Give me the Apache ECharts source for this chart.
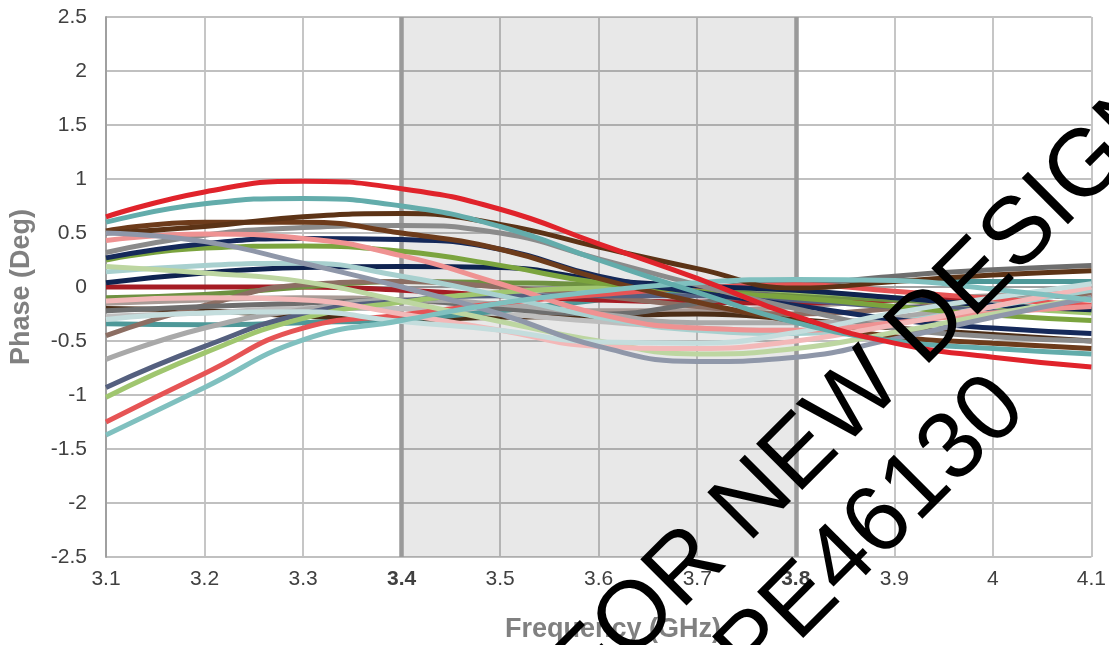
<!DOCTYPE html>
<html>
<head>
<meta charset="utf-8">
<script src="https://cdn.jsdelivr.net/npm/echarts@6/dist/echarts.min.js"></script>
<style>
html,body{margin:0;padding:0;background:#fff;}
#chart{width:1109px;height:645px;}
</style>
</head>
<body>
<div id="chart"></div>
<script>
// Frequencies (GHz)
const freqs = [3.1, 3.2, 3.3, 3.4, 3.5, 3.6, 3.7, 3.8, 3.9, 4.0, 4.1];
const yTicks = [-2.5, -2, -1.5, -1, -0.5, 0, 0.5, 1, 1.5, 2, 2.5];
const boldTicks = ['3.4', '3.8'];
const bandStart = 3.4;
const bandEnd = 3.8;

// Phase (Deg) per part
const red        = [0.65, 0.88, 0.98, 0.91, 0.72, 0.40, 0.08, -0.27, -0.52, -0.65, -0.74];
const teal       = [0.60, 0.77, 0.82, 0.75, 0.56, 0.25, -0.05, -0.33, -0.50, -0.57, -0.62];
const brownUp    = [0.50, 0.56, 0.65, 0.68, 0.58, 0.37, 0.17, -0.01, 0.05, 0.11, 0.15];
const brownLo    = [0.52, 0.60, 0.60, 0.50, 0.35, 0.08, -0.14, -0.32, -0.46, -0.52, -0.57];
const grayMid    = [0.32, 0.48, 0.55, 0.57, 0.50, 0.26, 0.02, -0.20, -0.38, -0.46, -0.50];
const grayDark   = [-0.22, -0.18, -0.15, -0.12, -0.20, -0.25, -0.15, 0.00, 0.10, 0.16, 0.20];
const navyA      = [0.27, 0.40, 0.45, 0.44, 0.35, 0.10, -0.05, -0.17, -0.30, -0.38, -0.43];
const navyB      = [0.04, 0.13, 0.18, 0.19, 0.18, 0.07, 0.01, -0.03, -0.10, -0.17, -0.21];
const green      = [0.25, 0.36, 0.38, 0.33, 0.20, 0.04, -0.04, -0.10, -0.18, -0.26, -0.31];
const pink       = [0.43, 0.49, 0.45, 0.29, 0.03, -0.25, -0.38, -0.40, -0.33, -0.24, -0.18];
const blueGray   = [0.50, 0.42, 0.22, 0.00, -0.25, -0.55, -0.69, -0.65, -0.48, -0.28, -0.10];
const lightGreen = [0.19, 0.13, 0.05, -0.13, -0.32, -0.50, -0.62, -0.57, -0.42, -0.25, -0.10];
const lightTeal  = [0.14, 0.20, 0.22, 0.10, -0.08, -0.28, -0.40, -0.43, -0.33, -0.18, -0.03];
const darkRed    = [0.00, 0.00, 0.00, -0.03, -0.08, -0.12, -0.14, -0.15, -0.12, -0.10, -0.08];
const olive      = [-0.10, -0.07, 0.00, 0.05, 0.04, 0.02, -0.02, -0.07, -0.12, -0.17, -0.22];
const taupe      = [-0.45, -0.17, 0.02, 0.05, 0.00, -0.08, -0.18, -0.25, -0.20, -0.12, -0.06];
const grayLight  = [-0.67, -0.38, -0.21, -0.12, -0.16, -0.25, -0.33, -0.33, -0.28, -0.15, -0.02];
const slate      = [-0.93, -0.55, -0.25, -0.13, -0.08, -0.08, -0.08, -0.12, -0.18, -0.20, -0.20];
const yellowGreen= [-1.02, -0.61, -0.29, -0.14, -0.05, -0.01, 0.00, -0.04, -0.10, -0.18, -0.24];
const coral      = [-1.25, -0.80, -0.38, -0.26, -0.15, -0.07, -0.01, 0.02, -0.04, -0.11, -0.17];
const teal2      = [-1.37, -0.93, -0.49, -0.31, -0.15, -0.04, 0.04, 0.07, 0.06, -0.02, -0.12];
const tealDark   = [-0.34, -0.35, -0.33, -0.30, -0.22, -0.12, -0.02, 0.05, 0.06, 0.05, 0.05];
const paleTeal   = [-0.30, -0.24, -0.23, -0.32, -0.40, -0.51, -0.52, -0.42, -0.24, -0.10, 0.03];
const pinkLight  = [-0.13, -0.10, -0.12, -0.25, -0.40, -0.55, -0.57, -0.50, -0.35, -0.18, 0.00];
const grayPale   = [-0.27, -0.24, -0.20, -0.20, -0.25, -0.32, -0.38, -0.40, -0.30, -0.15, -0.05];
const brownDark  = [-0.20, -0.22, -0.27, -0.30, -0.28, -0.27, -0.25, -0.30, -0.38, -0.44, -0.50];
const taupeLight = [-0.15, -0.12, -0.10, -0.12, -0.18, -0.22, -0.22, -0.18, -0.12, -0.08, -0.05];

const curves = [
  ['taupeLight', taupeLight, '#a99b96'],
  ['brownDark', brownDark, '#4b2d16'],
  ['grayPale', grayPale, '#bebebe'],
  ['tealDark', tealDark, '#4e9898'],
  ['darkRed', darkRed, '#a51c24'],
  ['olive', olive, '#6e9141'],
  ['taupe', taupe, '#8c6e63'],
  ['grayDark', grayDark, '#6e6e6e'],
  ['grayLight', grayLight, '#a9a9a9'],
  ['slate', slate, '#55607f'],
  ['yellowGreen', yellowGreen, '#a0c66f'],
  ['coral', coral, '#e65455'],
  ['navyB', navyB, '#0f2350'],
  ['lightTeal', lightTeal, '#a8d0cf'],
  ['green', green, '#7ba43e'],
  ['navyA', navyA, '#15295a'],
  ['grayMid', grayMid, '#8b8b8b'],
  ['brownLo', brownLo, '#6d3b1b'],
  ['brownUp', brownUp, '#5c3316'],
  ['pink', pink, '#ef9292'],
  ['lightGreen', lightGreen, '#bdd6a1'],
  ['pinkLight', pinkLight, '#f3b8b8'],
  ['paleTeal', paleTeal, '#c4dddd'],
  ['blueGray', blueGray, '#8f97a9'],
  ['teal2', teal2, '#80c0bf'],
  ['teal', teal, '#63acab'],
  ['red', red, '#e0232b']
];

const FONT = '"Liberation Sans", Arial, sans-serif';

const series = curves.map(function (c) {
  return {
    name: c[0],
    type: 'line',
    smooth: true,
    showSymbol: false,
    symbol: 'none',
    silent: true,
    lineStyle: { color: c[2], width: 5 },
    data: freqs.map(function (f, i) { return [f, c[1][i]]; })
  };
});

series.unshift({
  name: 'band',
  type: 'line',
  data: [],
  silent: true,
  markArea: {
    silent: true,
    itemStyle: { color: 'rgba(0,0,0,0.09)' },
    data: [[{ xAxis: bandStart }, { xAxis: bandEnd }]]
  },
  markLine: {
    silent: true,
    z: 2,
    symbol: ['none', 'none'],
    label: { show: false },
    lineStyle: { color: '#9a9a9a', width: 4.5, type: 'solid' },
    data: [{ xAxis: bandStart }, { xAxis: bandEnd }]
  }
});

function fmt(v) { return String(Math.round(v * 10) / 10); }

const chart = echarts.init(document.getElementById('chart'));
chart.setOption({
  animation: false,
  backgroundColor: '#ffffff',
  grid: { left: 106, right: 16, top: 17, bottom: 88 },
  xAxis: {
    type: 'value',
    min: freqs[0],
    max: freqs[freqs.length - 1],
    interval: 0.1,
    axisLine: { show: true, lineStyle: { color: '#a0a0a0', width: 2 } },
    axisTick: { show: false },
    splitLine: { show: true, lineStyle: { color: '#c0c0c0', width: 1.8 } },
    axisLabel: {
      margin: 12,
      fontSize: 21,
      fontFamily: FONT,
      color: '#404040',
      showMinLabel: true,
      showMaxLabel: true,
      formatter: function (v) {
        const s = fmt(v);
        return boldTicks.indexOf(s) >= 0 ? '{b|' + s + '}' : s;
      },
      rich: { b: { fontWeight: 'bold', fontSize: 21, fontFamily: FONT, color: '#404040' } }
    }
  },
  yAxis: {
    type: 'value',
    min: yTicks[0],
    max: yTicks[yTicks.length - 1],
    interval: 0.5,
    axisLine: { show: true, lineStyle: { color: '#a0a0a0', width: 2 } },
    axisTick: { show: false },
    splitLine: { show: true, lineStyle: { color: '#c0c0c0', width: 1.8 } },
    axisLabel: {
      margin: 19,
      fontSize: 21,
      fontFamily: FONT,
      color: '#404040',
      formatter: function (v) { return fmt(v); }
    }
  },
  graphic: [
    {
      type: 'text', x: 613, y: 630, z: 10,
      style: { text: 'Frequency (GHz)', font: 'bold 27px ' + FONT, fill: '#808080', textAlign: 'center', textVerticalAlign: 'middle' }
    },
    {
      type: 'text', x: 22, y: 287, rotation: Math.PI / 2, z: 10,
      style: { text: 'Phase (Deg)', font: 'bold 27px ' + FONT, fill: '#808080', textAlign: 'center', textVerticalAlign: 'middle' }
    },
    {
      type: 'text', x: 808, y: 447, rotation: Math.PI / 4, z: 100,
      style: { text: 'NOT FOR NEW DESIGNS', font: '95px ' + FONT, fill: '#000000', textAlign: 'center', textVerticalAlign: 'middle' }
    },
    {
      type: 'text', x: 796, y: 608, rotation: Math.PI / 4, z: 100,
      style: { text: 'SEE PE46130', font: '95px ' + FONT, fill: '#000000', textAlign: 'center', textVerticalAlign: 'middle' }
    }
  ],
  series: series
});
</script>
</body>
</html>
